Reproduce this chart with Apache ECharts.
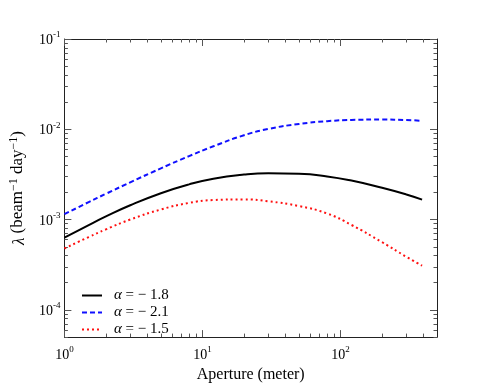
<!DOCTYPE html>
<html lang="en" style="height: 100%">
<head>
  <meta charset="utf-8">
</head>
<body style="height: 100%; margin: 0; background: #fff">
  <div id="container" style="width: 485px; height: 388px"></div>
  <script type="text/javascript" src="https://fastly.jsdelivr.net/npm/echarts@6.0.0/dist/echarts.min.js"></script>
  <script type="text/javascript">
    // aperture (meter)
    const aperture = [1, 1.5, 2, 3, 5, 8, 12, 20, 30, 50, 80, 120, 200, 300, 390];
    // lambda (beam^-1 day^-1) for each alpha
    const lamA18 = [6.31e-4, 8.71e-4, 1.086e-3, 1.442e-3, 1.959e-3, 2.455e-3, 2.838e-3, 3.15e-3, 3.26e-3, 3.22e-3, 3.01e-3, 2.704e-3, 2.249e-3, 1.897e-3, 1.663e-3];
    const lamA21 = [1.148e-3, 1.563e-3, 1.932e-3, 2.588e-3, 3.698e-3, 5.047e-3, 6.486e-3, 8.59e-3, 1.009e-2, 1.146e-2, 1.23e-2, 1.271e-2, 1.282e-2, 1.268e-2, 1.242e-2];
    const lamA15 = [4.786e-4, 6.412e-4, 7.798e-4, 1.002e-3, 1.294e-3, 1.531e-3, 1.648e-3, 1.675e-3, 1.596e-3, 1.413e-3, 1.169e-3, 8.73e-4, 5.623e-4, 3.873e-4, 3.09e-4];
    const seriesNames = ['α = − 1.8', 'α = − 2.1', 'α = − 1.5'];

    // tick values
    const xMajor = [1, 10, 100];
    const xMinor = [2, 3, 4, 5, 6, 7, 8, 9, 20, 30, 40, 50, 60, 70, 80, 90, 200, 300, 400];
    const yMajor = [1e-4, 1e-3, 1e-2, 1e-1];
    const yMinor = [5e-5, 6e-5, 7e-5, 8e-5, 9e-5,
      2e-4, 3e-4, 4e-4, 5e-4, 6e-4, 7e-4, 8e-4, 9e-4,
      2e-3, 3e-3, 4e-3, 5e-3, 6e-3, 7e-3, 8e-3, 9e-3,
      2e-2, 3e-2, 4e-2, 5e-2, 6e-2, 7e-2, 8e-2, 9e-2];

    const FONT = 'Liberation Serif';
    const X_MIN = 1, X_MAX = 500, Y_MIN = 5e-5, Y_MAX = 1e-1;

    function pow10Label(v) {
      const e = Math.log10(v);
      const r = Math.round(e);
      if (Math.abs(e - r) > 1e-6) return '';
      return '{b|10}{s|' + r + '}';
    }
    const labelRich = {
      b: { fontFamily: FONT, fontSize: 14, color: '#000', lineHeight: 17, verticalAlign: 'bottom' },
      s: { fontFamily: FONT, fontSize: 9, color: '#000', lineHeight: 17, verticalAlign: 'top' }
    };

    function mkAxis(pos, min, max, major, ticks, isMajor, withLabel) {
      return {
        type: 'log',
        logBase: 10,
        position: pos,
        min: min,
        max: max,
        axisLine: { show: isMajor, onZero: false, lineStyle: { color: '#222', width: 1 } },
        axisTick: {
          show: true,
          inside: true,
          length: isMajor ? 7 : 3.5,
          customValues: ticks,
          lineStyle: { color: '#555', width: 1 }
        },
        axisLabel: {
          show: withLabel,
          customValues: major,
          formatter: pow10Label,
          rich: labelRich,
          margin: pos === 'bottom' ? 8 : 4
        },
        splitLine: { show: false },
        minorTick: { show: false }
      };
    }

    const dom = document.getElementById('container');
    const myChart = echarts.init(dom, null, { renderer: 'canvas' });

    const xBottom = mkAxis('bottom', X_MIN, X_MAX, xMajor, xMajor, true, true);
    xBottom.name = 'Aperture (meter)';
    xBottom.nameLocation = 'middle';
    xBottom.nameGap = 22;
    xBottom.nameTextStyle = { fontFamily: FONT, fontSize: 16, color: '#000' };

    const yLeft = mkAxis('left', Y_MIN, Y_MAX, yMajor, yMajor, true, true);
    yLeft.name = '{i|λ} (beam{s|−1} day{s|−1})';
    yLeft.nameLocation = 'middle';
    yLeft.nameGap = 24;
    yLeft.nameRotate = 90;
    yLeft.nameTextStyle = {
      fontFamily: FONT, fontSize: 17, color: '#000',
      rich: {
        i: { fontFamily: FONT, fontSize: 17, fontStyle: 'italic', color: '#000', lineHeight: 20, verticalAlign: 'bottom' },
        s: { fontFamily: FONT, fontSize: 12, color: '#000', lineHeight: 20, verticalAlign: 'top' }
      }
    };

    const option = {
      backgroundColor: '#fff',
      animation: false,
      grid: { left: 60, right: 48, top: 39, bottom: 39, containLabel: false },
      legend: {
        orient: 'vertical',
        left: 76,
        top: 283,
        itemWidth: 20,
        itemHeight: 10,
        itemGap: 2,
        data: seriesNames,
        itemStyle: { opacity: 0 },
        formatter: function (name) {
          return '{a|α}{t|' + name.slice(1) + '}';
        },
        textStyle: {
          fontFamily: FONT,
          fontSize: 15,
          color: '#000',
          rich: {
            a: { fontFamily: FONT, fontSize: 15, fontStyle: 'italic', color: '#000', lineHeight: 17, padding: [0, 0, 0, 7] },
            t: { fontFamily: FONT, fontSize: 15, color: '#000', lineHeight: 17 }
          }
        }
      },
      xAxis: [
        xBottom,
        mkAxis('bottom', X_MIN, X_MAX, xMajor, xMinor, false, false),
        mkAxis('top', X_MIN, X_MAX, xMajor, xMajor, true, false),
        mkAxis('top', X_MIN, X_MAX, xMajor, xMinor, false, false)
      ],
      yAxis: [
        yLeft,
        mkAxis('left', Y_MIN, Y_MAX, yMajor, yMinor, false, false),
        mkAxis('right', Y_MIN, Y_MAX, yMajor, yMajor, true, false),
        mkAxis('right', Y_MIN, Y_MAX, yMajor, yMinor, false, false)
      ],
      series: [
        {
          name: seriesNames[0], type: 'line', smooth: true, symbol: 'none',
          data: aperture.map((x, i) => [x, lamA18[i]]),
          lineStyle: { color: '#000', width: 2, type: 'solid' },
          itemStyle: { color: '#000' }
        },
        {
          name: seriesNames[1], type: 'line', smooth: true, symbol: 'none',
          data: aperture.map((x, i) => [x, lamA21[i]]),
          lineStyle: { color: '#1010ff', width: 2, type: [5, 3] },
          itemStyle: { color: '#1010ff' }
        },
        {
          name: seriesNames[2], type: 'line', smooth: true, symbol: 'none',
          data: aperture.map((x, i) => [x, lamA15[i]]),
          lineStyle: { color: '#ff1010', width: 2, type: [2, 3] },
          itemStyle: { color: '#ff1010' }
        }
      ]
    };

    myChart.setOption(option);
    window.addEventListener('resize', myChart.resize);
  </script>
</body>
</html>
